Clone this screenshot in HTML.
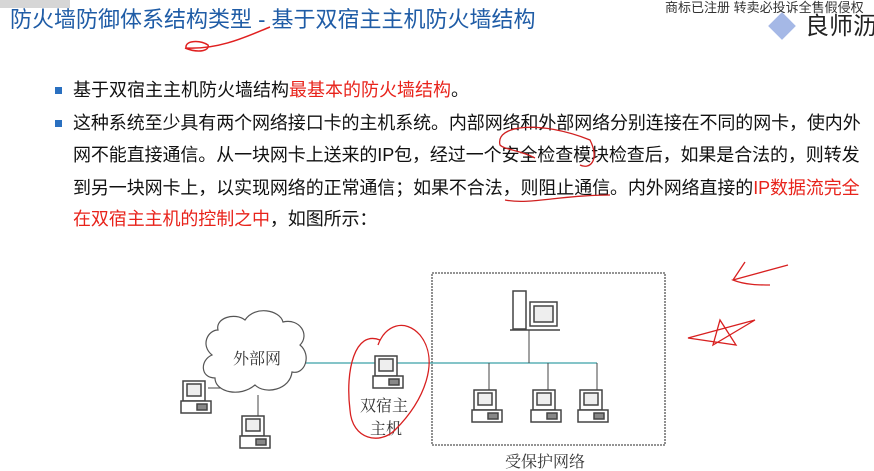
<!DOCTYPE html>
<html><head><meta charset="utf-8"><style>
body{margin:0;width:874px;height:471px;background:#fff;position:relative;overflow:hidden;font-family:"Liberation Sans","Noto Sans CJK SC",sans-serif;}
.t{position:absolute;white-space:nowrap;font-size:18px;color:#111;line-height:24px;}
.r{color:#e8231b}
.b{position:absolute;width:7px;height:7px;background:#2a70c0;left:55px}
</style></head><body>
<div class="t" style="left:10px;top:6px;font-size:22px;color:#1f5ca6;line-height:28px">防火墙防御体系结构类型 - 基于双宿主主机防火墙结构</div>
<div class="t" style="left:665px;top:-4px;font-size:13px;color:#333">商标已注册 转卖必投诉全售假侵权</div>
<div class="t" style="left:805px;top:12px;font-size:24px;color:#222;line-height:30px">良师沥</div>
<div style="position:absolute;left:768px;top:12px;width:28px;height:28px;background:#8fa6e0;transform:rotate(45deg) scale(.7);opacity:.8"></div>
<div style="position:absolute;left:0;top:0;width:70px;height:8px;background:#bbb;opacity:.6"></div>
<svg style="position:absolute;left:0;top:0" width="874" height="471">
<path d="M185 48 C200 54 210 50 208 45 C200 40 185 40 186 48 C220 50 250 35 270 27" stroke="#e02020" fill="none" stroke-width="1.5"/>
</svg>
<div class="b" style="top:87px"></div>
<div class="t" style="left:73px;top:78px">基于双宿主主机防火墙结构<span class="r">最基本的防火墙结构</span>。</div>
<div class="b" style="top:120px"></div>
<div class="t" style="left:73px;top:111px;letter-spacing:-0.1px">这种系统至少具有两个网络接口卡的主机系统。内部网络和外部网络分别连接在不同的网卡，使内外</div>
<div class="t" style="left:73px;top:143px;letter-spacing:-0.1px">网不能直接通信。从一块网卡上送来的IP包，经过一个安全检查模块检查后，如果是合法的，则转发</div>
<div class="t" style="left:73px;top:176px;letter-spacing:-0.1px">到另一块网卡上，以实现网络的正常通信；如果不合法，则阻止通信。内外网络直接的<span class="r">IP数据流完全</span></div>
<div class="t" style="left:73px;top:207px;letter-spacing:-0.1px"><span class="r">在双宿主主机的控制之中</span>，如图所示：</div>
<svg style="position:absolute;left:0;top:0" width="874" height="471" font-family="Liberation Serif,Noto Serif CJK SC,serif">
<defs>
<g id="pc" stroke="#444" fill="#fff" stroke-width="1.5">
<rect x="2" y="0" width="22" height="20"/><rect x="6" y="3" width="14" height="12" fill="#eee"/>
<rect x="0" y="20" width="30" height="12"/><rect x="16" y="23" width="10" height="6" fill="#888"/>
</g>
</defs>
<path d="M535 158 C520 150 505 150 500 145 C495 125 540 120 590 140 C600 160 590 170 580 165 M505 200 C530 205 560 195 610 195" stroke="#d02020" fill="none" stroke-width="1.3"/>
<rect x="432" y="273" width="233" height="172" fill="none" stroke="#555" stroke-width="1.3" stroke-dasharray="2,1"/>
<line x1="295" y1="363" x2="597" y2="363" stroke="#3aa0a8" stroke-width="1.2"/>
<line x1="529" y1="330" x2="529" y2="363" stroke="#444"/>
<line x1="489" y1="363" x2="489" y2="390" stroke="#444"/><line x1="548" y1="363" x2="548" y2="390" stroke="#444"/><line x1="597" y1="363" x2="597" y2="390" stroke="#444"/>
<g stroke="#444" fill="#fff" stroke-width="1.5">
<rect x="513" y="291" width="13" height="38"/><rect x="530" y="302" width="27" height="24"/><rect x="534" y="306" width="19" height="16" fill="#eee"/><line x1="510" y1="330" x2="560" y2="330"/>
</g>
<use href="#pc" x="472" y="390"/><use href="#pc" x="531" y="390"/><use href="#pc" x="578" y="390"/>
<use href="#pc" x="373" y="356"/>
<use href="#pc" x="181" y="381"/><use href="#pc" x="240" y="416"/>
<line x1="208" y1="388" x2="222" y2="388" stroke="#444"/><line x1="258" y1="395" x2="258" y2="416" stroke="#444"/>
<path d="M218 330 C215 318 235 312 245 320 C255 305 280 310 283 322 C300 318 310 335 300 345 C312 355 305 375 292 372 C290 390 265 395 255 385 C240 398 215 392 215 378 C200 378 200 360 212 355 C200 345 208 330 218 330 Z" fill="#fff" stroke="#555" stroke-width="1.2"/>
<text x="233" y="364" font-size="16" fill="#333">外部网</text>
<text x="360" y="411" font-size="16" fill="#333">双宿主</text>
<text x="370" y="434" font-size="16" fill="#333">主机</text>
<text x="505" y="467" font-size="16" fill="#333">受保护网络</text>
<path d="M380 340 C355 330 345 370 350 410 C352 440 380 445 395 430 C425 400 440 360 420 335 C405 318 385 325 378 345" stroke="#d82020" fill="none" stroke-width="1.3"/>
<path d="M788 265 L733 280 C745 285 760 285 770 285 M733 280 L745 262" stroke="#d82020" fill="none" stroke-width="1.3"/>
<path d="M688 338 L755 320 L713 345 L720 320 L736 345 Z" stroke="#d82020" fill="none" stroke-width="1.3"/>
</svg>
</body></html>
